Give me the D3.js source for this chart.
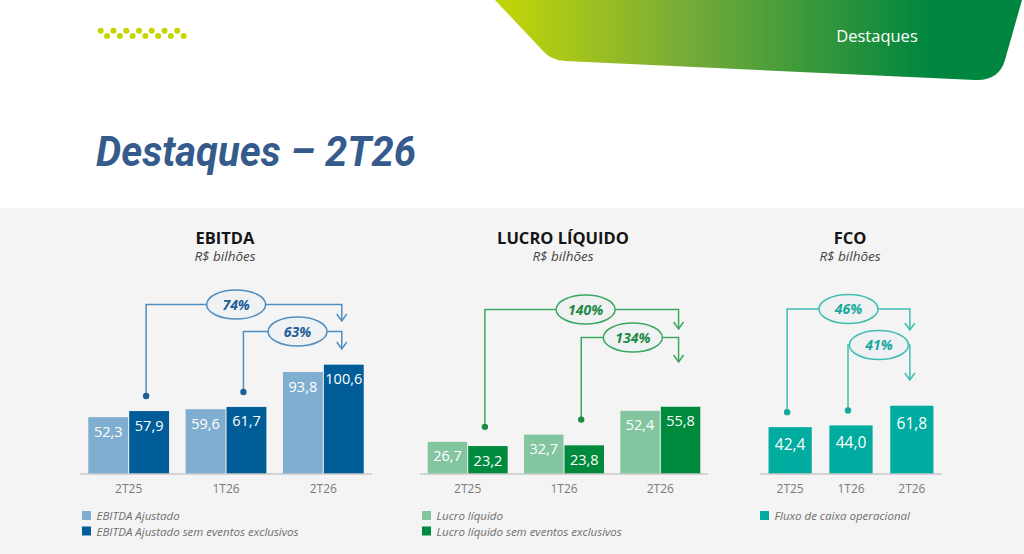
<!DOCTYPE html>
<html>
<head>
<meta charset="utf-8">
<script src="https://cdn.jsdelivr.net/npm/d3@7"></script>
<style>
  html, body { margin: 0; padding: 0; background: #fff; }
  svg { display: block; font-family: 'Open Sans', sans-serif; }
</style>
</head>
<body>
<svg id="chart" width="1024" height="554"></svg>
<script>
// values (R$ bilhoes)
var periods = ['2T25', '1T26', '2T26'];
var ebitdaAjustado = [52.3, 59.6, 93.8];
var ebitdaSemEventos = [57.9, 61.7, 100.6];
var lucroLiquido = [26.7, 32.7, 52.4];
var lucroSemEventos = [23.2, 23.8, 55.8];
var fluxoCaixa = [42.4, 44.0, 61.8];
var ebitdaVar = ['74%', '63%'];
var lucroVar = ['140%', '134%'];
var fcoVar = ['46%', '41%'];
var ebitdaLegend = ['EBITDA Ajustado', 'EBITDA Ajustado sem eventos exclusivos'];
var lucroLegend = ['Lucro líquido', 'Lucro líquido sem eventos exclusivos'];
var fcoLegend = ['Fluxo de caixa operacional'];

var ptBR = d3.formatLocale({ decimal: ',', thousands: '.', grouping: [3], currency: ['R$ ', ''] });
var fmt = ptBR.format('.1f');

var svg = d3.select('#chart');
var baseline = 474;

// ---- header ----
var defs = svg.append('defs');
var grad = defs.append('linearGradient')
  .attr('id', 'headGrad')
  .attr('gradientUnits', 'userSpaceOnUse')
  .attr('x1', 510).attr('x2', 930).attr('y1', 0).attr('y2', 0);
grad.append('stop').attr('offset', 0).attr('stop-color', '#bed30a');
grad.append('stop').attr('offset', 0.4).attr('stop-color', '#7aad36');
grad.append('stop').attr('offset', 1).attr('stop-color', '#00863f');

svg.append('path')
  .attr('d', 'M495,0 L544,52 Q552,60.4 565,61 L975,80 Q999,81 1005,60 L1022,0 Z')
  .attr('fill', 'url(#headGrad)');

svg.append('text')
  .attr('x', 877).attr('y', 42)
  .attr('text-anchor', 'middle')
  .style('font-size', '16.5px')
  .style('fill', '#fff')
  .text('Destaques');

// zigzag dots
var dotIdx = d3.range(14);
svg.append('g').selectAll('circle')
  .data(dotIdx)
 .enter().append('circle')
  .attr('cx', function(d) { return 100.7 + d * 6.38; })
  .attr('cy', function(d) { return d % 2 ? 36 : 30.7; })
  .attr('r', 3)
  .attr('fill', '#c6d500');

svg.append('text')
  .attr('x', 96).attr('y', 166)
  .attr('textLength', 320)
  .attr('lengthAdjust', 'spacingAndGlyphs')
  .style('font-family', 'Roboto, sans-serif')
  .style('font-size', '42px')
  .style('font-weight', 'bold')
  .style('font-style', 'italic')
  .style('fill', '#355b8c')
  .text('Destaques – 2T26');

svg.append('rect')
  .attr('x', 0).attr('y', 208)
  .attr('width', 1024).attr('height', 346)
  .attr('fill', '#f4f4f4');

// ---- panels ----
var panels = [
  { title: 'EBITDA', cx: 225, x0: 80, x1: 372, k: 1.087, padIn: 0.17, padOut: 0.085,
    series: [ebitdaAjustado, ebitdaSemEventos], colors: ['#80aed0', '#005d97'],
    legend: ebitdaLegend, legendX: 82, growth: ebitdaVar,
    stroke: '#4f8ec0', ink: '#1d5f97', levels: [304.5, 331.5], tips: [321, 349], frac: [0.46, 0.55],
    labelSize: 14.5, labelDy: 19.5 },
  { title: 'LUCRO LÍQUIDO', cx: 563, x0: 420, x1: 708, k: 1.205, padIn: 0.17, padOut: 0.08,
    series: [lucroLiquido, lucroSemEventos], colors: ['#82c59f', '#008a3e'],
    legend: lucroLegend, legendX: 422, growth: lucroVar,
    stroke: '#3ba761', ink: '#1c8a45', levels: [309.5, 337.5], tips: [329, 362], frac: [0.52, 0.53],
    labelSize: 14.5, labelDy: 19.5 },
  { title: 'FCO', cx: 850, x0: 760, x1: 942, k: 1.105, padIn: 0.29, padOut: 0.14,
    series: [fluxoCaixa], colors: ['#00ab9f'],
    legend: fcoLegend, legendX: 760, growth: fcoVar,
    stroke: '#3fbdb3', ink: '#17a89c', levels: [309, 345], tips: [330, 380], frac: [0.5, 0.5],
    labelSize: 15.5, labelDy: 23 }
];

panels.forEach(drawPanel);

function drawPanel(p) {
  var g = svg.append('g');

  var x = d3.scaleBand()
    .domain(periods)
    .range([p.x0, p.x1])
    .paddingInner(p.padIn)
    .paddingOuter(p.padOut);

  var xSub = d3.scaleBand()
    .domain(d3.range(p.series.length))
    .range([0, x.bandwidth()])
    .paddingInner(p.series.length > 1 ? 0.025 : 0);

  var maxVal = d3.max(p.series, function(s) { return d3.max(s); });
  var y = d3.scaleLinear()
    .domain([0, maxVal])
    .range([baseline, baseline - maxVal * p.k]);

  g.append('text')
    .attr('x', p.cx).attr('y', 243.5)
    .attr('text-anchor', 'middle')
    .style('font-size', '16.5px')
    .style('font-weight', 'bold')
    .style('fill', '#151515')
    .text(p.title);
  g.append('text')
    .attr('x', p.cx).attr('y', 260.5)
    .attr('text-anchor', 'middle')
    .style('font-size', '13.5px')
    .style('font-style', 'italic')
    .style('fill', '#444')
    .text('R$ bilhões');

  var cells = [];
  p.series.forEach(function(s, si) {
    s.forEach(function(v, i) { cells.push({ period: periods[i], s: si, value: v }); });
  });

  g.selectAll('.bar')
    .data(cells)
   .enter().append('rect')
    .attr('class', 'bar')
    .attr('x', function(d) { return x(d.period) + xSub(d.s); })
    .attr('width', xSub.bandwidth())
    .attr('y', function(d) { return y(d.value); })
    .attr('height', function(d) { return baseline - y(d.value); })
    .attr('fill', function(d) { return p.colors[d.s]; });

  g.selectAll('.val')
    .data(cells)
   .enter().append('text')
    .attr('class', 'val')
    .attr('x', function(d) { return x(d.period) + xSub(d.s) + xSub.bandwidth() / 2; })
    .attr('y', function(d) { return y(d.value) + p.labelDy; })
    .attr('text-anchor', 'middle')
    .style('font-size', p.labelSize + 'px')
    .style('fill', '#fff')
    .text(function(d) { return fmt(d.value); });

  // axis line + category labels
  var axis = g.append('g')
    .attr('transform', 'translate(0,' + baseline + ')')
    .call(d3.axisBottom(x).tickSize(0).tickPadding(10));
  axis.select('.domain')
    .attr('d', 'M' + p.x0 + ',0H' + p.x1)
    .attr('stroke', '#c9c9c9')
    .attr('stroke-width', 1.5);
  axis.selectAll('text')
    .style('font-family', "'Open Sans', sans-serif")
    .style('font-size', '12px')
    .style('fill', '#7a7a7a');

  // growth callouts
  var last = p.series.length - 1;
  function barCenter(i) { return x(periods[i]) + xSub(last) + xSub.bandwidth() / 2; }
  var endX = barCenter(periods.length - 1) - 2;

  p.growth.forEach(function(label, i) {
    var sx = barCenter(i) - 3;
    var groupTop = d3.min(p.series, function(s) { return y(s[i]); });
    var sy = groupTop - 15;
    var lvl = p.levels[i], tip = p.tips[i];
    var ca = g.append('g');

    ca.append('path')
      .attr('d', 'M' + sx + ',' + sy + 'V' + lvl + 'H' + endX + 'V' + tip)
      .attr('fill', 'none')
      .attr('stroke', p.stroke)
      .attr('stroke-width', 1.5);
    ca.append('path')
      .attr('d', 'M' + (endX - 5) + ',' + (tip - 7) + 'L' + endX + ',' + tip + 'L' + (endX + 5) + ',' + (tip - 7))
      .attr('fill', 'none')
      .attr('stroke', p.stroke)
      .attr('stroke-width', 1.5);
    ca.append('circle')
      .attr('cx', sx).attr('cy', sy).attr('r', 3.2)
      .attr('fill', p.ink);

    var ex = sx + p.frac[i] * (endX - sx);
    ca.append('ellipse')
      .attr('cx', ex).attr('cy', lvl)
      .attr('rx', 29.5).attr('ry', 14.5)
      .attr('fill', '#eff1f3')
      .attr('stroke', p.stroke)
      .attr('stroke-width', 1.5);
    ca.append('text')
      .attr('x', ex).attr('y', lvl + 5)
      .attr('text-anchor', 'middle')
      .style('font-size', '14px')
      .style('font-weight', 'bold')
      .style('font-style', 'italic')
      .style('fill', p.ink)
      .text(label);
  });

  // legend
  var leg = g.selectAll('.leg')
    .data(p.legend)
   .enter().append('g')
    .attr('class', 'leg')
    .attr('transform', function(d, i) { return 'translate(' + p.legendX + ',' + (511 + i * 15.5) + ')'; });
  leg.append('rect')
    .attr('width', 9).attr('height', 9)
    .attr('fill', function(d, i) { return p.colors[i]; });
  leg.append('text')
    .attr('x', 14.5).attr('y', 9)
    .style('font-size', '11.5px')
    .style('font-style', 'italic')
    .style('fill', '#6f6f6f')
    .text(function(d) { return d; });
}
</script>
</body>
</html>
